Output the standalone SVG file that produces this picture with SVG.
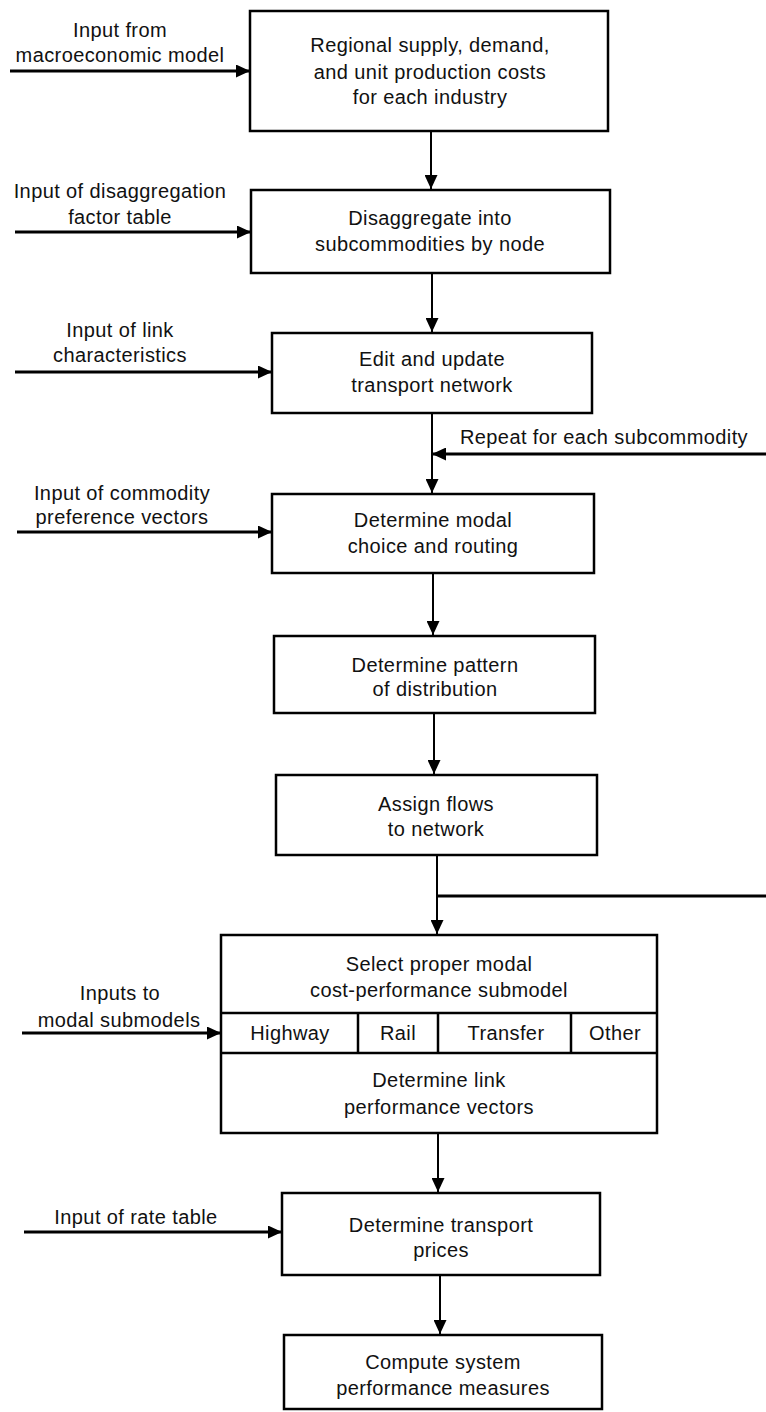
<svg xmlns="http://www.w3.org/2000/svg" width="766" height="1412" viewBox="0 0 766 1412">
  <style>
    .box { fill: #fff; stroke: #000; stroke-width: 2.5; }
    .div { stroke: #000; stroke-width: 2.5; fill: none; }
    .flow { stroke: #000; stroke-width: 2; fill: none; }
    .input { stroke: #000; stroke-width: 3; fill: none; }
    text { font-family: "Liberation Sans", Arial, sans-serif; font-size: 20px; letter-spacing: 0.4px; fill: #111; text-anchor: middle; }
  </style>
  <defs>
    <marker id="head" markerUnits="userSpaceOnUse" markerWidth="14" markerHeight="13" refX="14" refY="6.5" orient="auto">
      <path d="M0,0 L14,6.5 L0,13 z" fill="#000"/>
    </marker>
  </defs>
  <rect width="766" height="1412" fill="#fff"/>

  <!-- process boxes -->
  <g id="regional-supply">
    <rect class="box" x="250" y="11" width="358" height="120"/>
    <text x="430" y="52">Regional supply, demand,</text>
    <text x="430" y="79">and unit production costs</text>
    <text x="430" y="104">for each industry</text>
  </g>
  <g id="disaggregate">
    <rect class="box" x="251" y="190" width="359" height="83"/>
    <text x="430" y="225">Disaggregate into</text>
    <text x="430" y="251">subcommodities by node</text>
  </g>
  <g id="edit-network">
    <rect class="box" x="272" y="333" width="320" height="80"/>
    <text x="432" y="366">Edit and update</text>
    <text x="432" y="392">transport network</text>
  </g>
  <g id="modal-choice">
    <rect class="box" x="272" y="494" width="322" height="79"/>
    <text x="433" y="527">Determine modal</text>
    <text x="433" y="553">choice and routing</text>
  </g>
  <g id="distribution">
    <rect class="box" x="274" y="636" width="321" height="77"/>
    <text x="435" y="672">Determine pattern</text>
    <text x="435" y="696">of distribution</text>
  </g>
  <g id="assign-flows">
    <rect class="box" x="276" y="775" width="321" height="80"/>
    <text x="436" y="811">Assign flows</text>
    <text x="436" y="836">to network</text>
  </g>
  <g id="modal-submodel">
    <rect class="box" x="221" y="935" width="436" height="198"/>
    <text x="439" y="971">Select proper modal</text>
    <text x="439" y="997">cost-performance submodel</text>
    <line class="div" x1="221" y1="1013" x2="657" y2="1013"/>
    <line class="div" x1="221" y1="1053" x2="657" y2="1053"/>
    <line class="div" x1="358" y1="1013" x2="358" y2="1053"/>
    <line class="div" x1="438" y1="1013" x2="438" y2="1053"/>
    <line class="div" x1="571" y1="1013" x2="571" y2="1053"/>
    <text x="290" y="1040">Highway</text>
    <text x="398" y="1040">Rail</text>
    <text x="506" y="1040">Transfer</text>
    <text x="615" y="1040">Other</text>
    <text x="439" y="1087">Determine link</text>
    <text x="439" y="1114">performance vectors</text>
  </g>
  <g id="transport-prices">
    <rect class="box" x="282" y="1193" width="318" height="82"/>
    <text x="441" y="1232">Determine transport</text>
    <text x="441" y="1257">prices</text>
  </g>
  <g id="system-measures">
    <rect class="box" x="284" y="1335" width="318" height="74"/>
    <text x="443" y="1369">Compute system</text>
    <text x="443" y="1395">performance measures</text>
  </g>

  <!-- external inputs and their labels -->
  <g id="input-labels">
    <text x="120" y="37">Input from</text>
    <text x="120" y="62">macroeconomic model</text>
    <text x="120" y="198">Input of disaggregation</text>
    <text x="120" y="224">factor table</text>
    <text x="120" y="337">Input of link</text>
    <text x="120" y="362">characteristics</text>
    <text x="122" y="500">Input of commodity</text>
    <text x="122" y="524">preference vectors</text>
    <text x="604" y="444">Repeat for each subcommodity</text>
    <text x="120" y="1000">Inputs to</text>
    <text x="119" y="1027">modal submodels</text>
    <text x="136" y="1224">Input of rate table</text>
  </g>

  <!-- connectors -->
  <g id="connectors">
    <line class="input" x1="10" y1="71" x2="250" y2="71" marker-end="url(#head)"/>
    <line class="input" x1="15" y1="232" x2="251" y2="232" marker-end="url(#head)"/>
    <line class="input" x1="15" y1="372" x2="272" y2="372" marker-end="url(#head)"/>
    <line class="input" x1="17" y1="532" x2="272" y2="532" marker-end="url(#head)"/>
    <line class="input" x1="22" y1="1033" x2="221" y2="1033" marker-end="url(#head)"/>
    <line class="input" x1="24" y1="1232" x2="282" y2="1232" marker-end="url(#head)"/>

    <line class="flow" x1="431" y1="131" x2="431" y2="189" marker-end="url(#head)"/>
    <line class="flow" x1="432" y1="273" x2="432" y2="332" marker-end="url(#head)"/>
    <line class="flow" x1="432" y1="413" x2="432" y2="493" marker-end="url(#head)"/>
    <line class="input" x1="766" y1="454" x2="432" y2="454" marker-end="url(#head)"/>
    <line class="flow" x1="433" y1="573" x2="433" y2="635" marker-end="url(#head)"/>
    <line class="flow" x1="434" y1="713" x2="434" y2="774" marker-end="url(#head)"/>
    <line class="flow" x1="437" y1="855" x2="437" y2="934" marker-end="url(#head)"/>
    <line class="input" x1="437" y1="896" x2="766" y2="896"/>
    <line class="flow" x1="438" y1="1133" x2="438" y2="1192" marker-end="url(#head)"/>
    <line class="flow" x1="440" y1="1275" x2="440" y2="1334" marker-end="url(#head)"/>
  </g>
</svg>
